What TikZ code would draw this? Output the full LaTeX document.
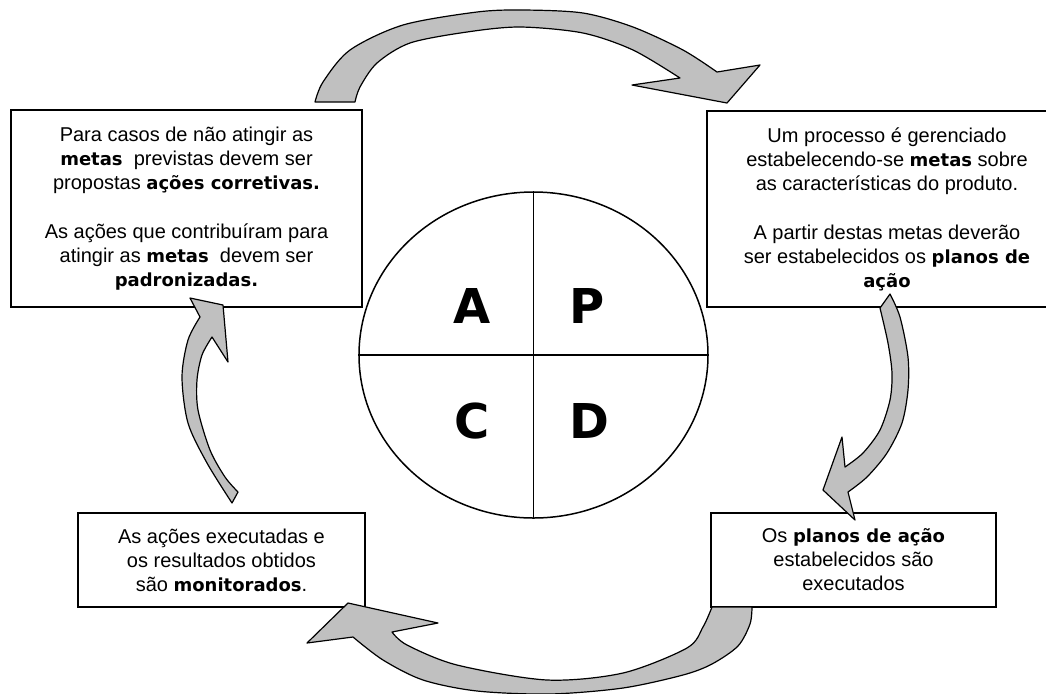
\documentclass[tikz,border=0pt]{standalone}
\usepackage{fontspec}
\setmainfont{Liberation Sans}
\newfontfamily\negrito{DejaVu Sans}
\usetikzlibrary{shapes.geometric}

\definecolor{prata}{RGB}{192,192,192}
\newcommand{\destaque}[1]{{\negrito\bfseries\fontsize{9}{12}\selectfont #1}}

\begin{document}
\begin{tikzpicture}[x=0.5pt,y=-0.5pt,
  caixa/.style={draw,line width=0.75pt,fill=white,align=center,inner sep=0pt,
    font=\fontsize{10}{12}\selectfont},
  seta/.style={draw=black,fill=prata,line width=0.6pt,line join=round},
  letra/.style={font=\negrito\bfseries\fontsize{24}{24}\selectfont}]
  \useasboundingbox (0,0) rectangle (1046,693);
  \clip (0,0) rectangle (1046,693);

  % The four boxes
  \node[caixa,minimum width=175.5pt,minimum height=98.5pt] (caixaA) at (186.5,208.5)
    {Para casos de não atingir as\\
     \destaque{metas}\ \ previstas devem ser\\
     propostas \destaque{ações corretivas.}\\[12.5pt]
     As ações que contribuíram para\\
     atingir as \destaque{metas}\ \ devem ser\\
     \destaque{padronizadas.}};
  \node[caixa,minimum width=180pt,minimum height=98pt] (caixaP) at (887,209)
    {Um processo é gerenciado\\
     estabelecendo-se \destaque{metas} sobre\\
     as características do produto.\\[12.5pt]
     A partir destas metas deverão\\
     ser estabelecidos os \destaque{planos de}\\
     \destaque{ação}};
  \node[caixa,minimum width=143.5pt,minimum height=47pt] (caixaC) at (221.5,560)
    {As ações executadas e\\
     os resultados obtidos\\
     são \destaque{monitorados}.};
  \node[caixa,minimum width=142.5pt,minimum height=47pt] (caixaD) at (853.5,560)
    {Os \destaque{planos de ação}\\
     estabelecidos são\\
     executados};

  % The PDCA circle
  \node[ellipse,draw,line width=0.75pt,minimum width=174.5pt,minimum height=163pt,
    inner sep=0pt] (ciclo) at (533.5,355) {};
  \draw[line width=0.75pt] (ciclo.north) -- (ciclo.south);
  \draw[line width=0.75pt] (ciclo.west) -- (ciclo.east);
  \node[letra] (A) at (472,306) {A};
  \node[letra] (P) at (587,306) {P};
  \node[letra] (C) at (472,421) {C};
  \node[letra] (D) at (589,421) {D};

  % Curved block arrows, clockwise
  \draw[seta] plot[smooth] coordinates {(315,102) (323,82) (350,50) (403,25) (477,12)
      (523,10) (583,13) (633,27) (683,50) (717,72)}
    -- (760,65) -- (727,103) -- (632,85)
    -- plot[smooth] coordinates {(680,78) (633,50) (583,33) (520,27) (467,32) (410,43)
      (377,63) (360,87) (355,102)} -- cycle;
  \draw[seta] plot[smooth] coordinates {(890,294) (900,317) (908,357) (908,390)
      (902,423) (887,453) (867,477) (848,492)}
    -- (855,520) -- (823,490) -- (842,437)
    -- plot[smooth] coordinates {(845,467) (863,453) (880,430) (890,400) (892,373)
      (888,343) (880,308)} -- cycle;
  \draw[seta] plot[smooth] coordinates {(752,607) (750,624) (738,646) (712,664)
      (683,675) (623,688) (550,694) (477,691) (423,680) (383,660) (353,637)}
    -- (307,643) -- (348,603) -- (438,623)
    -- plot[smooth] coordinates {(392,632) (407,645) (457,665) (547,680) (623,673)
      (687,648) (703,627) (712,607)} -- cycle;
  \draw[seta] plot[smooth] coordinates {(232,503) (207,463) (188,423) (182,377)
      (188,340) (200,317)}
    -- (190,298) -- (223,305) -- (228,362)
    -- plot[smooth] coordinates {(212,337) (202,355) (197,380) (198,410) (210,450)
      (225,477) (238,492)} -- cycle;
\end{tikzpicture}
\end{document}
